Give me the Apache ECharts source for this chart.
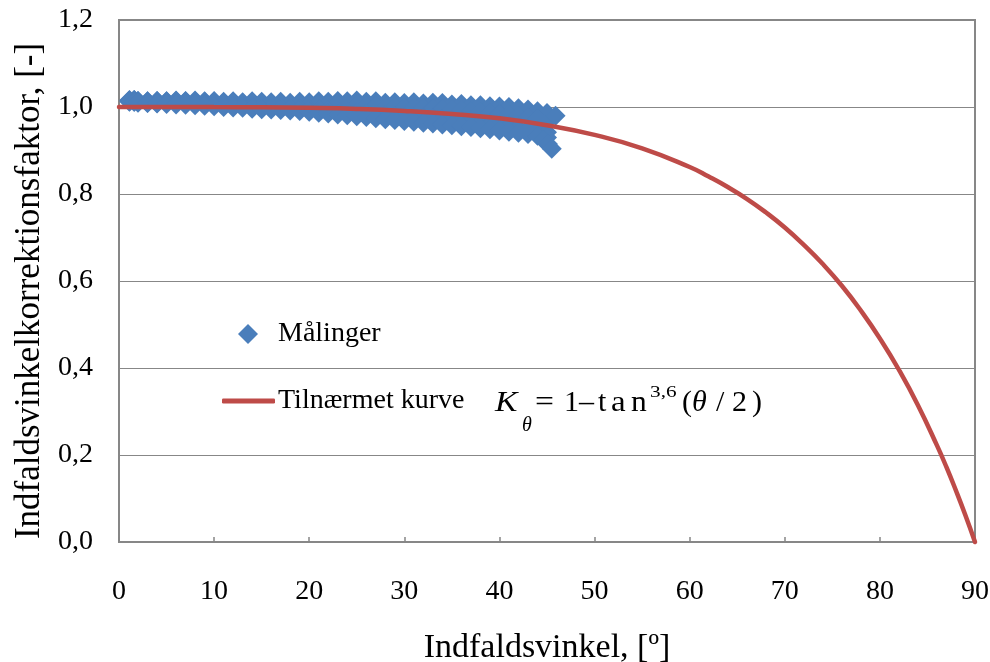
<!DOCTYPE html>
<html>
<head>
<meta charset="utf-8">
<script src="https://cdn.jsdelivr.net/npm/echarts@6/dist/echarts.min.js"></script>
</head>
<body style="margin:0;background:#fff">
<div id="c" style="width:990px;height:662px"></div>
<script>
// ---- data ----
const mAngle  = [1.1,1.6,2,3,4,5,6,7,8,9,10,11,12,13,14,15,16,17,18,19,20,21,22,23,24,25,26,27,28,29,30,31,32,33,34,35,36,37,38,39,40,41,42,43,44,45];
const kTop    = [1.015,1.016,1.014,1.013,1.014,1.013,1.015,1.014,1.015,1.013,1.014,1.012,1.013,1.011,1.013,1.012,1.011,1.012,1.010,1.012,1.011,1.013,1.012,1.014,1.013,1.015,1.012,1.013,1.010,1.011,1.009,1.011,1.008,1.010,1.009,1.006,1.007,1.004,1.004,1.002,1.001,1.000,0.997,0.994,0.990,0.986];
const kUpper  = [1.016,1.016,1.014,1.013,1.014,1.013,1.014,1.013,1.013,1.012,1.012,1.010,1.011,1.009,1.010,1.009,1.008,1.008,1.007,1.008,1.007,1.007,1.006,1.007,1.005,1.006,1.003,1.003,1.000,1.000,0.998,0.999,0.997,0.997,0.996,0.994,0.993,0.990,0.988,0.986,0.984,0.982,0.979,0.976,0.972,0.968];
const kLower  = [1.012,1.012,1.011,1.010,1.009,1.009,1.009,1.008,1.008,1.006,1.006,1.005,1.004,1.003,1.002,1.001,1.000,0.999,0.997,0.996,0.995,0.994,0.992,0.990,0.989,0.987,0.985,0.983,0.981,0.979,0.977,0.976,0.974,0.973,0.971,0.969,0.967,0.965,0.962,0.960,0.958,0.955,0.952,0.949,0.946,0.942];
const kBottom = [1.013,1.012,1.010,1.009,1.008,1.007,1.006,1.005,1.004,1.003,1.002,1.000,0.999,0.998,0.996,0.995,0.994,0.993,0.992,0.991,0.989,0.987,0.985,0.983,0.981,0.979,0.977,0.974,0.972,0.970,0.968,0.966,0.964,0.962,0.960,0.958,0.956,0.954,0.951,0.949,0.946,0.943,0.941,0.938,0.934,0.930];
const extraAngle = [44.6, 45.1, 45.5, 45.9];
const extraK     = [0.924, 0.915, 0.904, 0.980];

const curveAngle = [0,5,10,15,20,25,30,35,40,45,50,55,60,62,64,66,68,70,72,74,76,78,80,82,84,86,87,88,89,90];
const curveK     = [1.000,1.000,0.9998,0.9993,0.998,0.9956,0.991,0.984,0.974,0.958,0.936,0.905,0.862,0.840,0.816,0.789,0.758,0.723,0.683,0.639,0.589,0.532,0.468,0.396,0.3145,0.222,0.172,0.118,0.061,0.000];

const seriesNames = ['Målinger', 'Tilnærmet kurve'];
const xTitle = 'Indfaldsvinkel, [º]';
const yTitle = 'Indfaldsvinkelkorrektionsfaktor, [-]';

// ---- build ----
const FONT = 'Liberation Serif';
const scatterData = [];
[kTop, kUpper, kLower, kBottom].forEach(arr => arr.forEach((v, i) => scatterData.push([mAngle[i], v])));
extraAngle.forEach((a, i) => scatterData.push([a, extraK[i]]));
const curveData = curveAngle.map((a, i) => [a, curveK[i]]);

const fmt = v => v.toFixed(1).replace('.', ',');
const AX = '#878787';
const BLUE = '#4A7EBB', RED = '#BE4B48';

// legend formula: K_θ = 1 – tan^{3,6}(θ / 2)
const formulaPieces = [
  {t:'K',   x:495, y:403, s:30, it:true, sx:1.12},
  {t:'θ',   x:522, y:426, s:20, it:true},
  {t:'=',   x:535, y:403, s:30, sx:1.12},
  {t:'1',   x:564, y:403, s:30},
  {t:'–',   x:579, y:403, s:30},
  {t:'t',   x:598, y:403, s:30},
  {t:'a',   x:611, y:403, s:30, sx:1.1},
  {t:'n',   x:631, y:403, s:30, sx:1.05},
  {t:'3,6', x:650, y:393, s:17, sx:1.25},
  {t:'(',   x:682, y:403, s:30},
  {t:'θ',   x:692, y:403, s:30, it:true},
  {t:'/',   x:716, y:403, s:30},
  {t:'2',   x:732, y:403, s:30},
  {t:')',   x:752, y:403, s:30}
];

const chart = echarts.init(document.getElementById('c'));
chart.setOption({
  animation: false,
  backgroundColor: '#fff',
  textStyle: {fontFamily: FONT},
  grid: {left:119, right:15, top:20, bottom:120, show:true, borderColor:AX, borderWidth:2,
         backgroundColor:'transparent', containLabel:false, outerBoundsMode:'none'},
  xAxis: {
    type:'value', min:0, max:90, interval:10,
    name: xTitle, nameLocation:'middle', nameGap:89,
    nameTextStyle:{fontFamily:FONT, fontSize:34, color:'#000'},
    axisLine:{show:true, onZero:false, lineStyle:{color:AX, width:2}},
    axisTick:{show:true, inside:true, length:5, lineStyle:{color:AX, width:1.5}},
    axisLabel:{fontFamily:FONT, fontSize:28, color:'#000', margin:36},
    splitLine:{show:false}
  },
  yAxis: {
    type:'value', min:0, max:1.2, interval:0.2,
    name: yTitle, nameLocation:'middle', nameGap:72,
    nameTextStyle:{fontFamily:FONT, fontSize:35, color:'#000', padding:[0,20,0,0]},
    axisLine:{show:true, lineStyle:{color:AX, width:2}},
    axisTick:{show:false},
    axisLabel:{fontFamily:FONT, fontSize:28, color:'#000', margin:26, formatter:fmt},
    splitLine:{show:true, lineStyle:{color:AX, width:1.2}}
  },
  legend: [
    {data:[{name:seriesNames[0], icon:'diamond'}], left:238, top:319, padding:0, itemWidth:20, itemHeight:20,
     itemStyle:{color:BLUE, opacity:1},
     textStyle:{fontFamily:FONT, fontSize:28, lineHeight:30, color:'#000', padding:[0,0,0,15]}},
    {data:[{name:seriesNames[1], icon:'roundRect'}], left:222, top:386, padding:0, itemWidth:53, itemHeight:5,
     itemStyle:{color:RED}, lineStyle:{width:0},
     textStyle:{fontFamily:FONT, fontSize:28, lineHeight:30, color:'#000', padding:[0,0,0,-2]}}
  ],
  graphic: formulaPieces.map(p => ({
    type:'text', x:p.x, y:p.y, scaleX:(p.sx || 1), silent:true,
    style:{text:p.t, fontFamily:FONT, fontSize:p.s, fontStyle:(p.it ? 'italic' : 'normal'),
           fill:'#000', align:'left', verticalAlign:'middle'}
  })),
  series: [
    {name:seriesNames[0], type:'scatter', data:scatterData, symbol:'diamond', symbolSize:20,
     itemStyle:{color:BLUE, opacity:1}, z:2},
    {name:seriesNames[1], type:'line', data:curveData, symbol:'none', showSymbol:false, smooth:true,
     lineStyle:{color:RED, width:4.5, cap:'round'}, itemStyle:{color:RED}, z:3, clip:false}
  ]
});
</script>
</body>
</html>
